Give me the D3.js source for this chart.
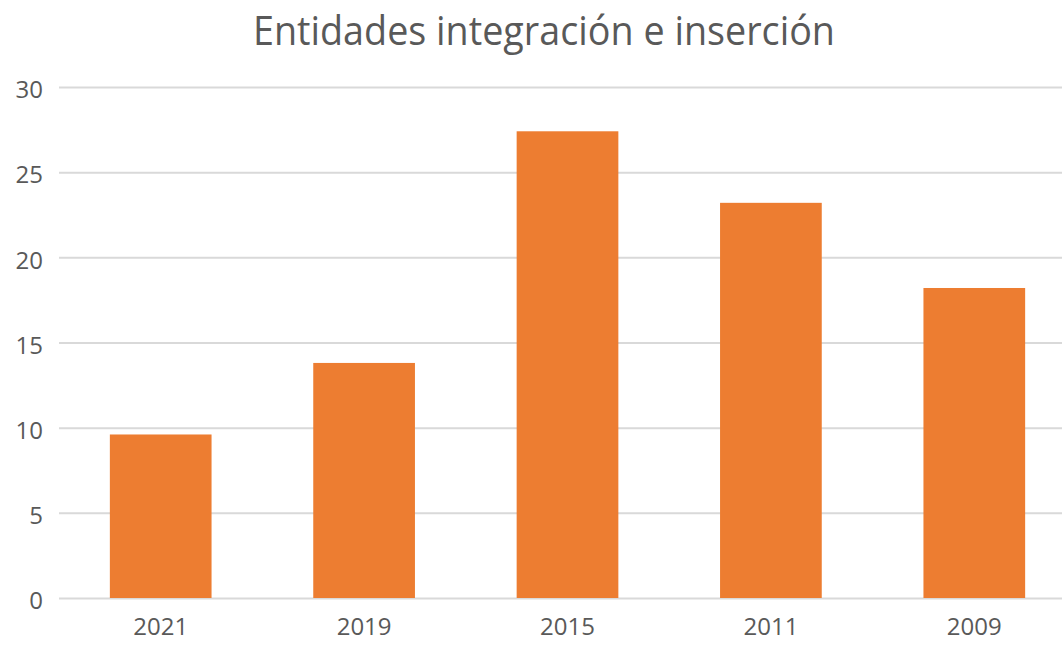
<!DOCTYPE html>
<html>
<head>
<meta charset="utf-8">
<script src="https://cdn.jsdelivr.net/npm/d3@7"></script>
<style>
  html, body { margin: 0; padding: 0; background: #fff; }
  svg { display: block; font-family: "Open Sans", sans-serif; }
</style>
</head>
<body>
<div id="chart"></div>
<script>
// DATA
////////////////////////////
var years = ['2021', '2019', '2015', '2011', '2009'];
var values = [9.6, 13.8, 27.4, 23.2, 18.2];
var yTicks = [0, 5, 10, 15, 20, 25, 30];
var title = 'Entidades integración e inserción';

// SETUP
////////////////////////////
var width = 1062,
    height = 645;

var svg = d3.select('#chart').append('svg')
    .attr('width', width)
    .attr('height', height);

var x = d3.scaleBand()
    .domain(years)
    .range([59, 1076])
    .paddingInner(0.5)
    .paddingOuter(0.25);

var y = d3.scaleLinear()
    .domain([0, 30])
    .range([598, 87]);

// title - squeeze a bit so it is tall like the original but same width
svg.append('text')
    .attr('x', 544)
    .attr('y', 45)
    .attr('text-anchor', 'middle')
    .attr('textLength', 582)
    .attr('lengthAdjust', 'spacingAndGlyphs')
    .style('font-size', '40px')
    .style('fill', '#595959')
    .text(title);

// gridlines (y axis with long ticks, no domain)
var yAxis = svg.append('g')
    .attr('transform', 'translate(59,0)')
    .call(d3.axisLeft(y).tickValues(yTicks).tickSize(-(width - 59)).tickPadding(16));
yAxis.select('.domain').remove();
yAxis.selectAll('line').attr('stroke', '#d9d9d9').attr('stroke-width', 2);
yAxis.selectAll('text')
    .attr('dy', '0.45em')
    .style('font-family', '"Open Sans", sans-serif')
    .style('font-size', '24px')
    .style('fill', '#595959');

// bars
svg.selectAll('rect.bar')
    .data(values)
    .enter().append('rect')
      .attr('class', 'bar')
      .attr('x', function(d, i) { return x(years[i]); })
      .attr('y', function(d) { return y(d); })
      .attr('width', x.bandwidth())
      .attr('height', function(d) { return y(0) - y(d); })
      .style('fill', '#ed7d31');

// x axis labels
var xAxis = svg.append('g')
    .attr('transform', 'translate(0,598)')
    .call(d3.axisBottom(x).tickSize(0).tickPadding(20));
xAxis.select('.domain').remove();
xAxis.selectAll('text')
    .style('font-family', '"Open Sans", sans-serif')
    .style('font-size', '24px')
    .style('fill', '#595959');
</script>
</body>
</html>
